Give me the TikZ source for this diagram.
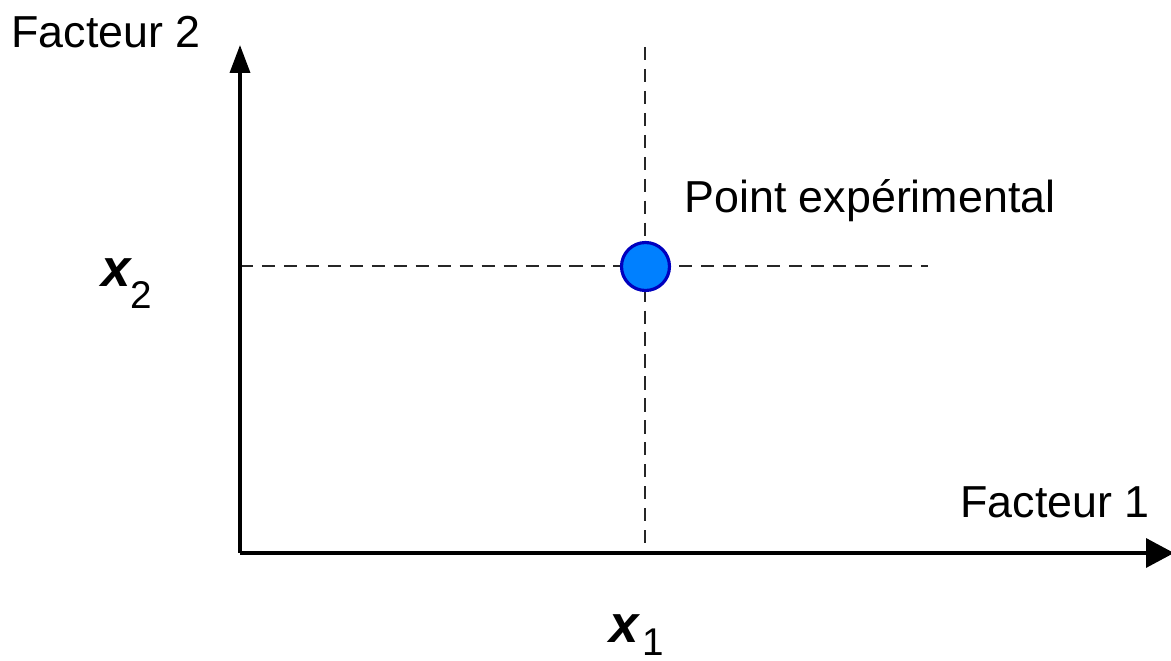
\documentclass[tikz,border=0pt]{standalone}
\usepackage{fontspec}
\setmainfont{Liberation Sans}
\usepackage{tikz}
\usetikzlibrary{arrows.meta}

\begin{document}
\begin{tikzpicture}[x=0.02cm,y=-0.02cm,
    axe/.style={line width=2pt,black},
    guide/.style={line width=1.1pt,black!85,dash pattern=on 7.5pt off 5pt},
    lab/.style={inner sep=0pt,anchor=base west,font=\fontsize{25.5}{27}\selectfont},
    var/.style={inner sep=0pt,anchor=base west}]
      \useasboundingbox (0,0) rectangle (1171,661);
      \coordinate (O) at (240,553);
      \coordinate (ytip) at (240,45);
      \coordinate (xtip) at (1174,553);
      \coordinate (vtop) at (645,47);
      \coordinate (vbot) at (645,553);
      \coordinate (hleft) at (240,266);
      \coordinate (hright) at (928,266);
      % guides
      \draw[guide] (vtop) -- (vbot);
      \draw[guide] (hleft) -- (hright);
      % axes
      \draw[axe,-{Triangle[length=28*0.02cm,width=20*0.02cm]}] (O) -- (ytip);
      \draw[axe,-{Triangle[length=28*0.02cm,width=29*0.02cm]}] (O) -- (xtip);
      \node[circle,draw={rgb,255:red,0;green,0;blue,190},line width=1.8pt,
        fill={rgb,255:red,0;green,128;blue,255},minimum size=48*0.02cm,inner sep=0pt] (pt) at (645.5,266.5) {};
      \node[lab] (ylab) at (11,48) {Facteur 2};
      \node[lab] (xlab) at (960,518) {Facteur 1};
      \node[lab] (ptlab) at (684,213) {Point expérimental};
      \node[var] (xtwo) at (101,287) {\fontsize{30}{30}\selectfont\bfseries\itshape x\raisebox{-12pt}{\fontsize{22}{22}\selectfont\mdseries\upshape 2}};
      \node[var] (xone) at (609,643) {\fontsize{30}{30}\selectfont\bfseries\itshape x\raisebox{-7pt}{\fontsize{22}{22}\selectfont\mdseries\upshape\hspace{2pt}1}};
    \end{tikzpicture}
\end{document}
